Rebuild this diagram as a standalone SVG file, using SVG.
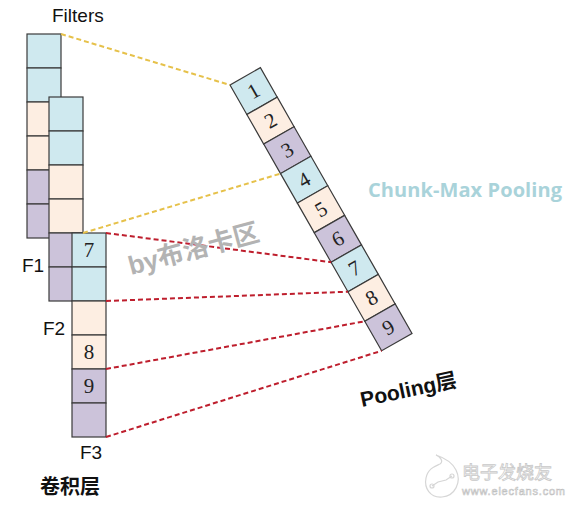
<svg xmlns="http://www.w3.org/2000/svg" width="572" height="506" viewBox="0 0 572 506">
<defs>
<style>
.c{fill:#CFE9EF;stroke:#3a3a3a;stroke-width:1.2}
.p{fill:#FDEEE2;stroke:#3a3a3a;stroke-width:1.2}
.u{fill:#CCC3DA;stroke:#3a3a3a;stroke-width:1.2}
.n{font-family:"Liberation Serif",serif;font-size:21px;fill:#222;text-anchor:middle}
.lbl{font-family:"Liberation Sans",Arial,sans-serif;font-size:19px;fill:#111}
.y{stroke:#E6C14A;stroke-width:2;stroke-dasharray:5 3;fill:none}
.r{stroke:#BE1E2D;stroke-width:2;stroke-dasharray:5 3;fill:none}
</style>
</defs>
<rect width="572" height="506" fill="#fff"/>
<g id="F1">
<rect class="c" x="27" y="34" width="34" height="34"/>
<rect class="c" x="27" y="68" width="34" height="34"/>
<rect class="p" x="27" y="102" width="34" height="34"/>
<rect class="p" x="27" y="136" width="34" height="34"/>
<rect class="u" x="27" y="170" width="34" height="34"/>
<rect class="u" x="27" y="204" width="34" height="34"/>
</g>
<g id="F2">
<rect class="c" x="49" y="97" width="34" height="34"/>
<rect class="c" x="49" y="131" width="34" height="34"/>
<rect class="p" x="49" y="165" width="34" height="34"/>
<rect class="p" x="49" y="199" width="34" height="34"/>
<rect class="u" x="49" y="233" width="34" height="34"/>
<rect class="u" x="49" y="267" width="34" height="34"/>
</g>
<g id="F3">
<rect class="c" x="72" y="233" width="34" height="34"/>
<rect class="c" x="72" y="267" width="34" height="34"/>
<rect class="p" x="72" y="301" width="34" height="34"/>
<rect class="p" x="72" y="335" width="34" height="34"/>
<rect class="u" x="72" y="369" width="34" height="34"/>
<rect class="u" x="72" y="403" width="34" height="34"/>
<text class="n" x="89" y="257">7</text>
<text class="n" x="89" y="359">8</text>
<text class="n" x="89" y="393">9</text>
</g>
<g id="pooling" transform="translate(230,85) rotate(-29.7)">
<rect class="c" x="0" y="0" width="35" height="34"/>
<rect class="p" x="0" y="34" width="35" height="34"/>
<rect class="u" x="0" y="68" width="35" height="34"/>
<rect class="c" x="0" y="102" width="35" height="34"/>
<rect class="p" x="0" y="136" width="35" height="34"/>
<rect class="u" x="0" y="170" width="35" height="34"/>
<rect class="c" x="0" y="204" width="35" height="34"/>
<rect class="p" x="0" y="238" width="35" height="34"/>
<rect class="u" x="0" y="272" width="35" height="34"/>
<text class="n" x="17.5" y="24">1</text>
<text class="n" x="17.5" y="58">2</text>
<text class="n" x="17.5" y="92">3</text>
<text class="n" x="17.5" y="126">4</text>
<text class="n" x="17.5" y="160">5</text>
<text class="n" x="17.5" y="194">6</text>
<text class="n" x="17.5" y="228">7</text>
<text class="n" x="17.5" y="262">8</text>
<text class="n" x="17.5" y="296">9</text>
</g>
<g id="connectors">
<line class="y" x1="61" y1="34" x2="230" y2="85"/>
<line class="y" x1="83" y1="233" x2="280.5" y2="173.6"/>
<line class="r" x1="106" y1="233" x2="331.1" y2="262.2"/>
<line class="r" x1="106" y1="301" x2="347.9" y2="291.7"/>
<line class="r" x1="106" y1="369" x2="364.8" y2="321.3"/>
<line class="r" x1="106" y1="437" x2="381.6" y2="350.8"/>
</g>
<g id="labels">
<text class="lbl" x="52" y="22" font-size="20">Filters</text>
<text class="lbl" x="22" y="272">F1</text>
<text class="lbl" x="43" y="335">F2</text>
<text class="lbl" x="80" y="459">F3</text>
<text x="40" y="494" style="font-family:'Noto Sans CJK SC',sans-serif;font-size:20px;font-weight:bold;fill:#111">卷积层</text>
<text x="368" y="197" textLength="194" style="font-family:'Open Sans',sans-serif;font-size:20px;font-weight:bold;fill:#A9D3DA">Chunk-Max Pooling</text>
<text x="362" y="407" transform="rotate(-12 362 407)" style="font-family:'Liberation Sans','Noto Sans CJK SC',sans-serif;font-size:21px;font-weight:bold;fill:#111">Pooling层</text>
</g>
<g id="watermark">
<text x="131" y="275" transform="rotate(-15 131 275)" style="font-family:'Liberation Sans','Noto Sans CJK SC',sans-serif;font-size:26px;font-weight:bold;fill:#B3B3B3">by布洛卡区</text>
<g fill="none" stroke="#d6d6d6" stroke-width="1.2">
<path d="M436 455 C445 458 452 462 456 470 C462 482 455 496 442 497 C430 498 424 488 426 478 C428 468 436 466 440 464 C444 461 440 457 436 455 Z"/>
<path d="M432 486 L438 482 L446 480 L452 476"/>
<circle cx="432" cy="486" r="2"/>
<circle cx="452" cy="476" r="2"/>
</g>
<text x="462" y="479" style="font-family:'Noto Sans CJK SC',sans-serif;font-size:18px;fill:#fff;stroke:#c8c8c8;stroke-width:0.8">电子发烧友</text>
<text x="462" y="495" textLength="103" style="font-family:'Liberation Sans',sans-serif;font-size:11px;fill:#fff;stroke:#c0c0c0;stroke-width:0.6">www.elecfans.com</text>
</g>
</svg>
